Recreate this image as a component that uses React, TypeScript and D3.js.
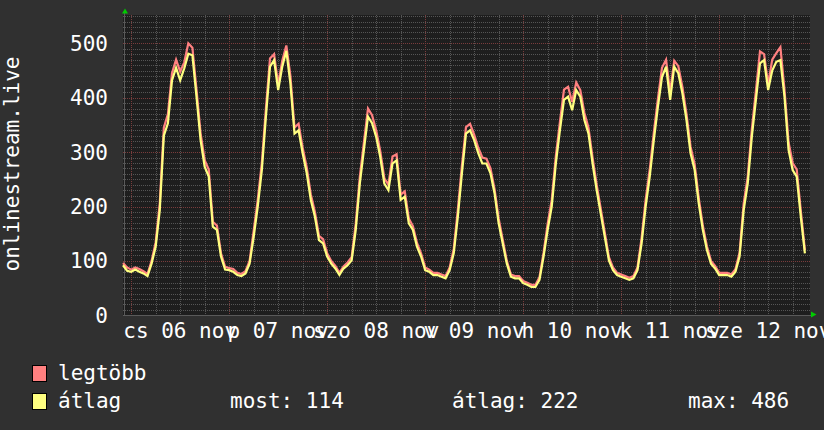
import * as d3 from "d3";

const WIDTH = 824;
const HEIGHT = 430;

// hourly samples, first sample ~2h before midnight of 06 nov
const avgValues = [
  92, 82, 80, 84, 80, 77, 72, 95, 126, 193,
  330, 353, 432, 455, 432, 454, 481, 478, 402, 322,
  273, 255, 163, 157, 108, 84, 83, 80, 74, 72,
  77, 95, 144, 200, 267, 365, 457, 469, 414, 457,
  486, 426, 334, 340, 298, 261, 212, 181, 138, 132,
  108, 95, 86, 74, 86, 92, 101, 157, 242, 304,
  365, 353, 328, 291, 242, 230, 279, 285, 212, 218,
  169, 157, 126, 108, 83, 80, 74, 74, 71, 68,
  83, 114, 181, 261, 334, 340, 322, 298, 279, 279,
  261, 224, 169, 132, 95, 71, 68, 68, 59, 56,
  52, 52, 65, 108, 157, 200, 279, 340, 396, 402,
  377, 414, 402, 359, 334, 279, 230, 187, 144, 101,
  83, 74, 71, 68, 65, 68, 83, 132, 200, 255,
  322, 383, 438, 457, 396, 457, 445, 408, 359, 298,
  267, 206, 157, 120, 95, 86, 74, 74, 74, 71,
  80, 108, 193, 242, 328, 396, 463, 469, 414, 450,
  466, 469, 402, 304, 267, 255, 181, 114,
];

const maxValues = [
  96, 88, 84, 88, 85, 81, 76, 100, 134, 205,
  345, 370, 445, 470, 448, 465, 500, 492, 415, 335,
  285, 268, 172, 165, 114, 89, 87, 85, 78, 76,
  81, 100, 155, 212, 280, 380, 472, 480, 425, 468,
  496, 440, 345, 352, 308, 272, 222, 190, 146, 140,
  114, 100, 91, 78, 90, 97, 107, 168, 255, 318,
  380, 368, 340, 302, 252, 240, 292, 296, 222, 228,
  178, 164, 133, 114, 88, 84, 78, 78, 75, 72,
  88, 122, 194, 275, 346, 352, 332, 308, 290, 288,
  270, 232, 178, 139, 100, 75, 72, 72, 63, 60,
  56, 56, 70, 115, 168, 212, 292, 355, 415, 420,
  392, 428, 414, 372, 345, 290, 240, 196, 152, 107,
  88, 78, 75, 72, 69, 72, 88, 142, 212, 268,
  336, 398, 455, 470, 410, 468, 458, 420, 370, 310,
  278, 216, 165, 127, 100, 91, 78, 78, 78, 75,
  85, 115, 205, 255, 342, 412, 485, 480, 425, 470,
  482, 493, 415, 318, 280, 268, 192, 120,
];

const yTicks = [0, 100, 200, 300, 400, 500];
const dayLabels = ["cs 06 nov", "p 07 nov", "szo 08 nov", "v 09 nov", "h 10 nov", "k 11 nov", "sze 12 nov"];
const firstMidnight = 2; // hour index of 06 nov 00:00
const totalHours = 168.25;

const seriesNames = ["legtöbb", "átlag"];
const seriesColors = ["#ff8080", "#ffff80"];
const summaryLabels = ["most:", "átlag:", "max:"];
const summaryValues = [114, 222, 486];

const FONT = "'DejaVu Sans Mono', monospace";

export default function App() {
  const plot = { left: 123, right: 810, top: 15, bottom: 316 };
  const x = d3.scaleLinear().domain([0, totalHours]).range([plot.left, plot.right]);
  const y = d3.scaleLinear().domain([0, 500]).range([315.3, 43.3]);

  const line = d3
    .line<number>()
    .x((_, i) => x(i))
    .y((d) => y(d))
    .curve(d3.curveLinear);

  const minorH = d3.range(10, 560, 10).filter((v) => v % 100 !== 0 && y(v) >= plot.top);
  const majorH = yTicks.filter((v) => v > 0);
  const vGrid = d3.range(firstMidnight, totalHours, 6);

  const crisp = (v: number) => Math.round(v) + 0.5;

  return (
    <svg
      width={WIDTH}
      height={HEIGHT}
      style={{ position: "absolute", left: 0, top: 0, display: "block" }}
      fontFamily={FONT}
    >
      <rect width={WIDTH} height={HEIGHT} fill="#303030" />
      <rect
        x={plot.left}
        y={plot.top}
        width={plot.right - plot.left}
        height={plot.bottom - plot.top}
        fill="#1e1e1e"
      />

      {/* minor grid */}
      <g stroke="#555555" strokeWidth={1} strokeDasharray="1,1">
        {minorH.map((v) => (
          <line key={"h" + v} x1={plot.left} x2={plot.right} y1={crisp(y(v))} y2={crisp(y(v))} />
        ))}
        {vGrid
          .filter((h) => (h - firstMidnight) % 24 !== 0)
          .map((h) => (
            <line key={"v" + h} x1={crisp(x(h))} x2={crisp(x(h))} y1={plot.top} y2={plot.bottom} />
          ))}
      </g>
      {/* major grid */}
      <g stroke="#7a3c3c" strokeWidth={1} strokeDasharray="1,1">
        {majorH.map((v) => (
          <line key={"H" + v} x1={plot.left} x2={plot.right} y1={crisp(y(v))} y2={crisp(y(v))} />
        ))}
        {vGrid
          .filter((h) => (h - firstMidnight) % 24 === 0)
          .map((h) => (
            <line key={"V" + h} x1={crisp(x(h))} x2={crisp(x(h))} y1={plot.top} y2={plot.bottom} />
          ))}
      </g>

      {/* axes */}
      <g stroke="#5a5a5a" strokeWidth={1}>
        <line x1={plot.left} x2={plot.right + 2} y1={crisp(y(0))} y2={crisp(y(0))} />
        <line x1={plot.left + 1.5} x2={plot.left + 1.5} y1={12} y2={plot.bottom} />
      </g>

      {/* series */}
      <path d={line(maxValues) ?? ""} fill="none" stroke={seriesColors[0]} strokeWidth={2.2} strokeLinejoin="miter" />
      <path d={line(avgValues) ?? ""} fill="none" stroke={seriesColors[1]} strokeWidth={2.2} strokeLinejoin="miter" />

      {/* arrows */}
      <path d="M122,13.5 L128,13.5 L125,8.5 Z" fill="#00cc00" />
      <path d="M811,311.5 L811,317.5 L816.5,314.5 Z" fill="#00cc00" />

      {/* y tick labels */}
      <g fill="#ffffff" fontSize={21} textAnchor="end">
        {yTicks.map((v) => (
          <text key={v} x={108} y={y(v)} dy="0.36em">
            {v}
          </text>
        ))}
      </g>

      {/* x labels, centred at noon */}
      <g fill="#ffffff" fontSize={21} textAnchor="middle">
        {dayLabels.map((label, i) => (
          <text key={label} x={x(firstMidnight + 12 + 24 * i)} y={338}>
            {label}
          </text>
        ))}
      </g>

      <text
        transform="translate(19,164) rotate(-90)"
        fill="#ffffff"
        fontSize={21}
        textAnchor="middle"
      >
        onlinestream.live
      </text>

      {/* legend */}
      {seriesNames.map((name, i) => (
        <g key={name} transform={`translate(0, ${i * 28})`}>
          <rect x={32.5} y={365.5} width={14} height={16} fill={seriesColors[i]} stroke="#000000" strokeWidth={1} />
          <text x={58} y={380} fill="#ffffff" fontSize={21}>
            {name}
          </text>
        </g>
      ))}
      {summaryLabels.map((label, i) => (
        <text key={label} x={[230, 452, 688][i]} y={408} fill="#ffffff" fontSize={21}>
          {`${label} ${summaryValues[i]}`}
        </text>
      ))}
    </svg>
  );
}
